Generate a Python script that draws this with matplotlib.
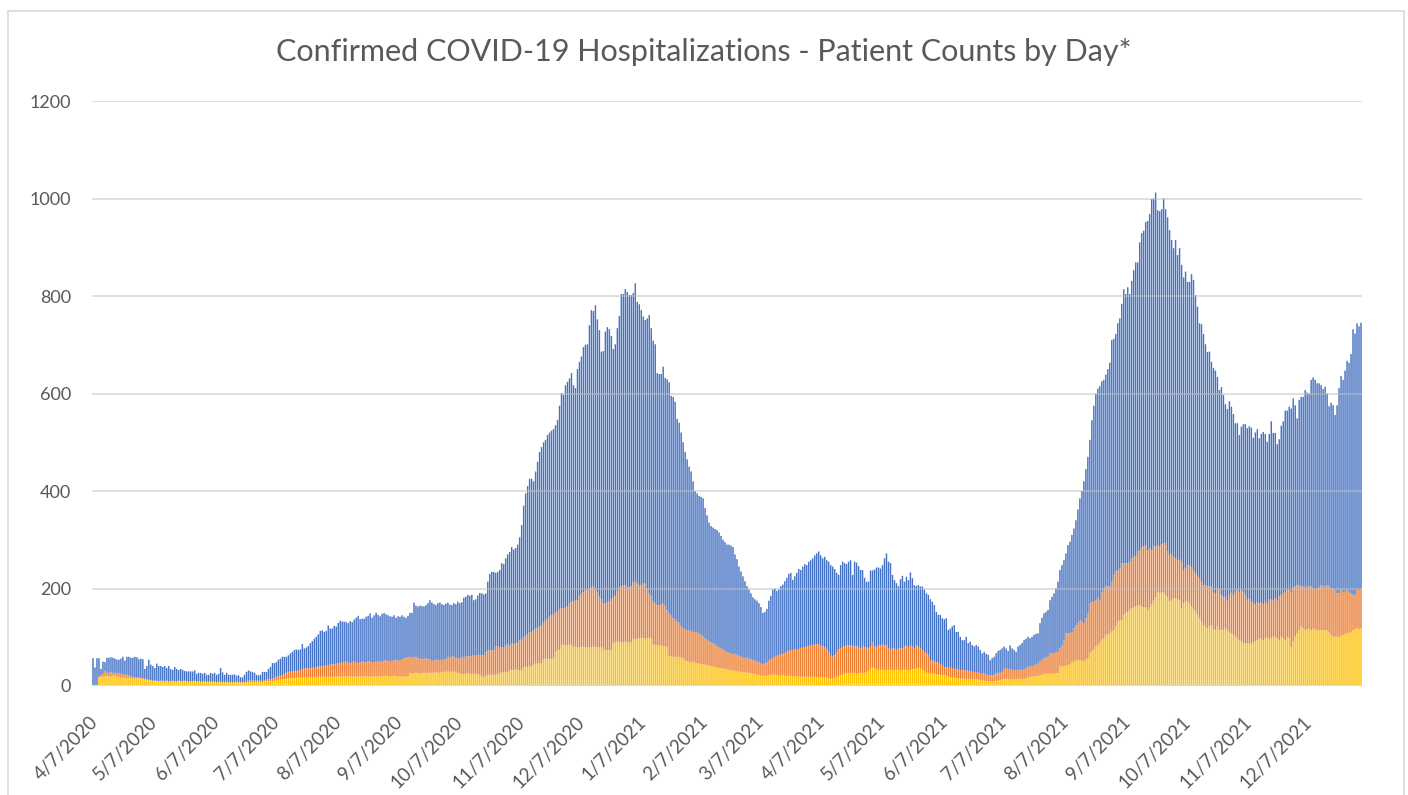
# daily confirmed covid-19 hospital patient counts, overlapping bar chart

# libraries
import numpy as np
import pandas as pd
import matplotlib
matplotlib.use('Agg')
import matplotlib.pyplot as plt
import matplotlib.dates as mdates
import matplotlib.transforms as mtrans
from matplotlib.patches import Rectangle

plt.rcParams['font.family'] = ['Lato', 'DejaVu Sans']

start = '2020-04-07'

# total hospitalized (blue)
total = [
    57, 38, 57, 57, 35, 50, 49, 58, 58, 59,
    58, 56, 54, 54, 56, 60, 52, 60, 60, 58,
    58, 60, 59, 55, 56, 55, 35, 41, 54, 44,
    41, 37, 46, 41, 41, 39, 41, 37, 41, 35,
    33, 39, 35, 33, 35, 33, 31, 30, 30, 30,
    30, 32, 25, 27, 27, 25, 27, 23, 23, 27,
    25, 27, 23, 25, 37, 28, 23, 27, 23, 23,
    23, 24, 21, 22, 18, 18, 23, 29, 32, 30,
    29, 27, 23, 22, 23, 29, 29, 29, 35, 39,
    47, 47, 49, 54, 56, 60, 60, 60, 63, 67,
    70, 74, 75, 74, 75, 86, 77, 79, 82, 88,
    92, 97, 101, 106, 113, 114, 111, 113, 124, 118,
    118, 123, 122, 129, 134, 132, 132, 131, 129, 133,
    131, 136, 140, 144, 137, 138, 138, 142, 144, 149,
    140, 145, 150, 146, 143, 148, 150, 147, 145, 143,
    142, 145, 140, 143, 142, 145, 142, 140, 144, 150,
    150, 171, 165, 163, 165, 164, 163, 166, 170, 176,
    171, 168, 166, 170, 171, 168, 166, 169, 171, 167,
    166, 170, 168, 173, 170, 172, 181, 183, 187, 185,
    187, 176, 178, 186, 191, 190, 188, 190, 214, 230,
    234, 234, 232, 234, 238, 252, 250, 262, 270, 275,
    285, 280, 283, 290, 305, 330, 370, 395, 410, 425,
    425, 420, 440, 460, 480, 490, 500, 505, 515, 520,
    524, 527, 535, 546, 575, 601, 597, 617, 624, 631,
    642, 617, 611, 650, 665, 676, 695, 700, 701, 740,
    771, 769, 781, 752, 730, 686, 687, 727, 736, 732,
    718, 691, 701, 734, 759, 804, 804, 814, 808, 802,
    802, 806, 826, 788, 783, 771, 758, 751, 754, 761,
    734, 708, 701, 642, 640, 640, 655, 632, 629, 623,
    595, 593, 583, 548, 540, 520, 500, 480, 465, 450,
    440, 420, 400, 395, 390, 388, 385, 365, 350, 335,
    328, 325, 322, 320, 315, 308, 300, 295, 290, 290,
    288, 285, 270, 260, 245, 235, 225, 215, 205, 198,
    190, 182, 178, 175, 170, 162, 150, 152, 158, 175,
    185, 198, 200, 195, 198, 205, 208, 215, 222, 230,
    232, 218, 225, 232, 240, 238, 245, 250, 248, 255,
    258, 262, 268, 272, 276, 268, 262, 265, 258, 255,
    248, 245, 240, 232, 228, 248, 255, 252, 250, 255,
    258, 228, 255, 253, 246, 238, 238, 222, 214, 214,
    237, 237, 239, 243, 243, 241, 248, 262, 272, 255,
    252, 228, 217, 211, 205, 219, 226, 214, 224, 217,
    233, 221, 207, 205, 207, 204, 204, 198, 190, 187,
    178, 173, 166, 152, 146, 146, 139, 137, 139, 115,
    118, 122, 125, 111, 111, 101, 94, 94, 101, 88,
    91, 84, 81, 84, 81, 74, 67, 70, 66, 64,
    53, 57, 60, 67, 72, 74, 77, 81, 77, 72,
    83, 77, 74, 70, 81, 84, 88, 94, 97, 101,
    98, 101, 105, 107, 108, 129, 140, 149, 152, 156,
    176, 183, 190, 200, 214, 238, 248, 258, 272, 289,
    296, 310, 323, 340, 362, 385, 400, 420, 445, 470,
    505, 545, 575, 600, 610, 615, 625, 628, 639, 650,
    663, 710, 712, 722, 744, 754, 784, 814, 804, 818,
    804, 831, 853, 869, 869, 910, 929, 934, 952, 954,
    968, 999, 1000, 1012, 976, 974, 978, 1000, 978, 961,
    935, 915, 898, 915, 884, 898, 864, 838, 850, 829,
    829, 845, 833, 802, 778, 744,
    742, 722, 701, 685, 686, 665, 652, 647, 634, 607,
    613, 597, 578, 568, 584, 573, 558, 539, 539, 515,
    532, 537, 537, 529, 533, 530, 509, 520, 527, 508,
    517, 521, 517, 501, 517, 543, 519, 519, 496, 506,
    534, 543, 565, 565, 573, 569, 590, 576, 549, 587,
    593, 593, 607, 602, 600, 628, 633, 628, 621, 621,
    617, 609, 614, 600, 574, 581, 576, 556, 576, 611,
    636, 628, 647, 667, 663, 681, 732, 723, 744, 738,
    745,
]

# icu patients (orange)
icu = [
    0, 0, 0, 19, 22, 25, 30, 27, 27, 28,
    27, 27, 26, 26, 25, 24, 23, 23, 22, 20,
    19, 18, 17, 17, 17, 16, 15, 14, 13, 12,
    11, 11, 11, 10, 11, 11, 10, 11, 10, 10,
    11, 10, 10, 11, 10, 10, 11, 10, 10, 10,
    10, 11, 10, 10, 9, 10, 10, 9, 10, 9,
    9, 9, 8, 9, 9, 8, 8, 9, 8, 8,
    8, 8, 9, 8, 8, 8, 8, 9, 11, 11,
    11, 11, 11, 11, 11, 10, 12, 13, 14, 14,
    15, 17, 19, 20, 21, 22, 25, 27, 29, 29,
    30, 31, 30, 32, 33, 35, 36, 36, 37, 36,
    38, 37, 38, 40, 40, 41, 40, 42, 43, 44,
    45, 44, 46, 47, 46, 48, 49, 50, 48, 47,
    49, 50, 48, 47, 49, 50, 48, 49, 51, 50,
    48, 49, 50, 50, 51, 49, 52, 53, 51, 50,
    52, 53, 54, 52, 53, 54, 57, 58, 59, 60,
    58, 59, 60, 57, 56, 55, 56, 57, 55, 55,
    51, 53, 54, 53, 54, 53, 54, 55, 60, 59,
    60, 61, 57, 57, 56, 60, 59, 60, 61, 61,
    62, 63, 62, 63, 64, 63, 63, 70, 73, 73,
    73, 74, 82, 81, 79, 80, 79, 84, 85, 84,
    87, 86, 88, 90, 94, 95, 100, 104, 106, 110,
    111, 114, 118, 119, 122, 124, 130, 135, 138, 143,
    145, 148, 152, 153, 157, 159, 160, 162, 163, 170,
    173, 173, 175, 176, 185, 190, 192, 197, 197, 200,
    203, 205, 200, 192, 183, 178, 170, 169, 172, 173,
    178, 183, 185, 195, 203, 205, 207, 207, 203, 203,
    205, 212, 214, 210, 207, 207, 210, 210, 200, 190,
    185, 173, 170, 166, 166, 168, 169, 165, 155, 149,
    145, 139, 137, 132, 130, 122, 118, 117, 115, 115,
    112, 111, 110, 111, 108, 105, 102, 98, 95, 92,
    90, 88, 85, 82, 80, 78, 75, 72, 70, 68,
    66, 65, 66, 64, 62, 60, 58, 57, 58, 56,
    55, 53, 52, 50, 48, 46, 45, 47, 48, 52,
    55, 58, 60, 62, 63, 65, 66, 68, 70, 72,
    73, 74, 75, 74, 76, 78, 79, 80, 81, 82,
    83, 84, 85, 86, 85, 84, 82, 80, 76, 70,
    62, 60, 63, 70, 75, 78, 80, 82, 83, 84,
    84, 81, 81, 81, 79, 77, 81, 80, 80, 77,
    82, 89, 81, 79, 83, 84, 85, 84, 83, 77,
    76, 77, 77, 75, 77, 77, 77, 81, 84, 79,
    84, 81, 77, 84, 81, 77, 74, 70, 67, 64,
    53, 52, 50, 49, 48, 45, 42, 39, 39, 38,
    37, 37, 35, 35, 35, 33, 33, 32, 32, 31,
    31, 29, 29, 27, 29, 26, 25, 26, 23, 22,
    22, 22, 23, 26, 27, 27, 29, 35, 37, 35,
    35, 33, 32, 32, 33, 35, 32, 35, 37, 39,
    40, 41, 43, 44, 46, 50, 54, 57, 59, 60,
    67, 67, 67, 70, 70, 77, 84, 93, 108, 108,
    108, 110, 118, 125, 129, 135, 133, 129, 139, 149,
    170, 172, 173, 176, 180, 176, 193, 200, 204, 204,
    204, 214, 228, 235, 238, 241, 252, 252, 252, 252,
    255, 262, 265, 267, 276, 279, 284, 287, 289, 279,
    282, 279, 286, 287, 289, 287, 291, 292, 293, 276,
    269, 271, 265, 262, 258, 259, 255, 238, 241, 248,
    248, 243, 238, 232, 226, 221,
    214, 207, 206, 204, 204, 204, 193, 190, 200, 197,
    187, 183, 183, 175, 187, 193, 187, 193, 197, 193,
    197, 193, 187, 177, 179, 173, 170, 168, 171, 170,
    171, 168, 173, 170, 177, 177, 175, 180, 175, 185,
    187, 190, 193, 197, 197, 193, 202, 204, 207, 207,
    204, 204, 203, 204, 204, 204, 200, 197, 200, 203,
    207, 204, 204, 207, 204, 200, 200, 197, 190, 190,
    197, 193, 193, 197, 193, 190, 187, 187, 197, 197,
    198,
]

# ventilator patients (yellow)
vent = [
    0, 0, 0, 17, 19, 19, 20, 20, 19, 19,
    21, 21, 20, 19, 17, 17, 17, 16, 16, 16,
    15, 15, 16, 16, 15, 14, 13, 12, 12, 11,
    11, 11, 10, 10, 10, 9, 9, 10, 9, 9,
    9, 9, 9, 10, 9, 9, 9, 9, 8, 9,
    9, 9, 8, 9, 8, 8, 9, 8, 8, 8,
    8, 8, 7, 8, 8, 7, 7, 8, 7, 7,
    7, 7, 8, 7, 7, 7, 7, 8, 8, 8,
    8, 8, 8, 8, 8, 8, 9, 9, 10, 10,
    10, 11, 12, 13, 14, 14, 14, 15, 15, 16,
    16, 16, 17, 17, 17, 17, 18, 17, 18, 18,
    17, 18, 18, 19, 18, 19, 19, 18, 19, 19,
    18, 19, 19, 20, 19, 19, 20, 19, 19, 20,
    19, 20, 19, 19, 20, 19, 19, 20, 19, 19,
    20, 19, 20, 19, 20, 19, 20, 21, 20, 19,
    20, 21, 20, 19, 19, 19, 20, 19, 20, 26,
    25, 26, 27, 26, 25, 26, 27, 26, 27, 27,
    27, 27, 28, 27, 27, 28, 29, 29, 30, 29,
    29, 30, 29, 27, 25, 25, 24, 25, 26, 25,
    24, 25, 25, 24, 23, 19, 19, 20, 23, 23,
    22, 23, 23, 24, 27, 28, 28, 29, 28, 33,
    32, 33, 34, 33, 32, 33, 38, 40, 39, 41,
    40, 45, 46, 47, 46, 47, 55, 56, 57, 55,
    56, 57, 70, 74, 74, 84, 85, 84, 83, 85,
    84, 80, 81, 79, 80, 80, 81, 80, 80, 79,
    80, 81, 80, 80, 79, 80, 75, 74, 74, 73,
    74, 88, 90, 91, 90, 89, 90, 91, 90, 89,
    90, 97, 96, 97, 98, 99, 98, 97, 98, 99,
    98, 85, 84, 84, 83, 84, 81, 81, 80, 62,
    61, 60, 60, 59, 60, 58, 57, 52, 51, 50,
    49, 50, 48, 47, 46, 45, 45, 44, 43, 42,
    41, 40, 39, 38, 37, 36, 36, 35, 34, 33,
    32, 32, 31, 30, 30, 29, 28, 28, 27, 27,
    26, 25, 24, 23, 22, 21, 20, 21, 21, 22,
    22, 23, 23, 22, 21, 21, 22, 21, 20, 21,
    20, 20, 19, 20, 19, 19, 18, 19, 19, 18,
    18, 19, 18, 18, 17, 18, 18, 17, 17, 16,
    15, 15, 16, 18, 20, 22, 24, 25, 26, 26,
    26, 27, 26, 25, 26, 27, 26, 27, 28, 30,
    37, 38, 36, 34, 33, 34, 33, 32, 33, 34,
    33, 32, 33, 34, 33, 32, 33, 34, 33, 32,
    33, 34, 35, 37, 37, 36, 33, 30, 27, 26,
    26, 25, 25, 24, 23, 23, 22, 23, 22, 20,
    18, 17, 17, 16, 16, 15, 15, 15, 14, 14,
    14, 14, 13, 14, 13, 12, 11, 11, 10, 10,
    9, 9, 10, 10, 11, 12, 13, 14, 14, 14,
    14, 13, 14, 14, 14, 15, 14, 14, 16, 17,
    19, 19, 20, 20, 21, 22, 23, 25, 25, 25,
    25, 25, 25, 26, 26, 40, 40, 40, 42, 43,
    45, 48, 50, 52, 53, 53, 52, 50, 54, 57,
    67, 72, 76, 81, 84, 88, 95, 98, 105, 106,
    108, 112, 115, 122, 132, 135, 136, 146, 150, 152,
    157, 160, 162, 163, 165, 166, 163, 161, 161, 156,
    161, 168, 175, 182, 193, 191, 191, 192, 187, 182,
    173, 177, 180, 180, 178, 176, 159, 170, 173, 173,
    170, 163, 158, 152, 146, 139,
    132, 125, 122, 118, 122, 125, 116, 115, 122, 115,
    116, 115, 118, 115, 111, 108, 105, 101, 98, 94,
    91, 88, 87, 88, 87, 87, 89, 91, 94, 98,
    96, 94, 98, 100, 96, 98, 101, 101, 98, 94,
    101, 98, 94, 101, 98, 79, 91, 101, 108, 115,
    122, 118, 115, 116, 118, 115, 118, 116, 114, 115,
    115, 114, 115, 114, 111, 105, 101, 101, 101, 100,
    103, 105, 106, 108, 109, 111, 115, 116, 118, 116,
    118,
]

# x axis ticks: the 7th of every month
tick_dates = pd.date_range('2020-04-01', '2021-12-01', freq='MS') + pd.Timedelta(days=6)
tick_labels = [f'{d.month}/{d.day}/{d.year}' for d in tick_dates]

text_color = '#595959'
grid_color = '#D9D9D9'

fig = plt.figure(figsize=(14.08, 7.95), dpi=100)
ax = fig.add_axes([92 / 1408, 1 - 686 / 795, 1270 / 1408, 585 / 795])

# chart border
fig.patches.append(Rectangle((8 / 1408, -0.05), 1396 / 1408, 1.05 - 11 / 795,
                             transform=fig.transFigure, fill=False,
                             edgecolor=grid_color, lw=1.2))

# the series overlap (each count includes the next), so each colour is drawn
# from the top of the smaller series to keep the colours clean
t = np.array(total, dtype=float)
i = np.array(icu, dtype=float)
v = np.array(vent, dtype=float)
x = mdates.date2num(pd.date_range(start, periods=len(t)))
bw = 0.72
ax.bar(x, v, width=bw, color='#FFC000', linewidth=0, zorder=2, snap=False)
ax.bar(x, np.maximum(i - v, 0), bottom=v, width=bw, color='#ED7D31',
       linewidth=0, zorder=2, snap=False)
ax.bar(x, np.maximum(t - i, 0), bottom=i, width=bw, color='#4472C4',
       linewidth=0, zorder=2, snap=False)

n = len(t)
x0 = mdates.date2num(pd.Timestamp(start))
ax.set_xlim(x0 - 0.5, x0 + n - 0.5)
ax.set_ylim(0, 1200)

# grid over the bars, faint
ax.set_yticks(np.arange(0, 1201, 200))
for g in range(200, 1201, 200):
    ax.axhline(g, color='#BFBFBF', lw=1.3, alpha=0.55, zorder=3)
ax.axhline(0, color=grid_color, lw=1.6, zorder=3)

ax.set_xticks(mdates.date2num(tick_dates))
ax.set_xticklabels(tick_labels)
ax.tick_params(axis='x', length=0, pad=14, labelsize=13.5, labelcolor=text_color)
ax.tick_params(axis='y', length=0, pad=15, labelsize=13, labelcolor=text_color)
shift = mtrans.ScaledTranslation(2 / 100, -14 / 100, fig.dpi_scale_trans)
for lbl in ax.get_xticklabels():
    lbl.set_rotation(45)
    lbl.set_ha('right')
    lbl.set_va('center')
    lbl.set_rotation_mode('anchor')
    lbl.set_transform(lbl.get_transform() + shift)

for s in ax.spines.values():
    s.set_visible(False)

fig.text(0.5, 1 - 52 / 795, 'Confirmed COVID-19 Hospitalizations - Patient Counts by Day*',
         ha='center', va='center', fontsize=22, color=text_color)

plt.savefig('out.png', dpi=100)
